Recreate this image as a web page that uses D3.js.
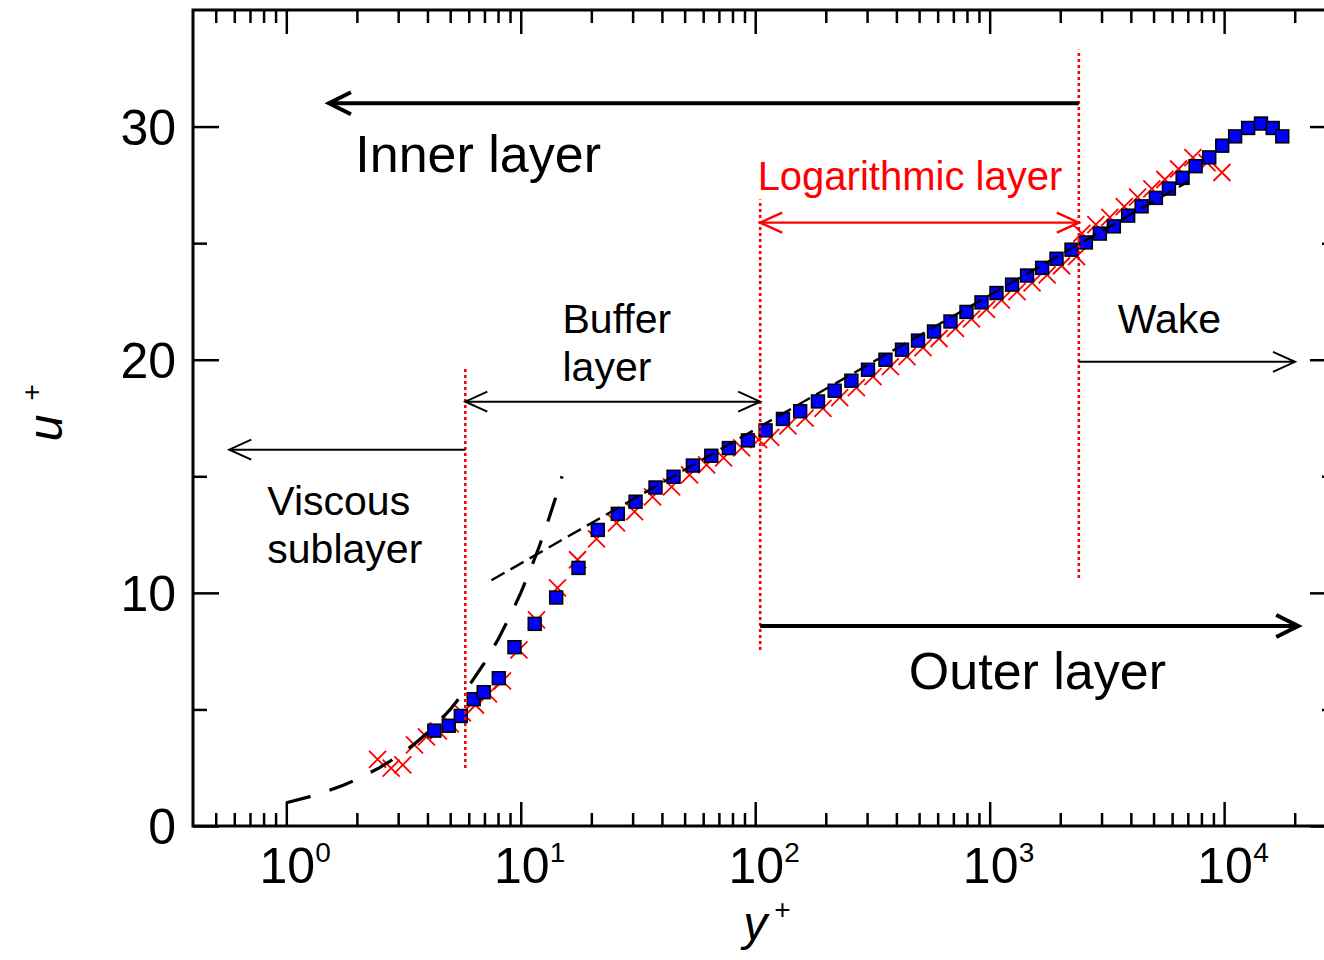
<!DOCTYPE html>
<html><head><meta charset="utf-8">
<script src="https://cdn.jsdelivr.net/npm/d3@7"></script>
<style>
body{margin:0;background:#fff}
svg{display:block}
text{font-family:"Liberation Sans",Arial,Helvetica,sans-serif;fill:#000}
</style>
</head><body>
<svg id="chart" width="1324" height="960"></svg>
<script>
// ---------- data ----------
const blueYPlus = [4.28,4.93,5.55,6.30,6.95,8.06,9.40,11.47,14.16,17.63,21.31,25.94,30.87,37.57,44.84,54.21,64.96,77.22,93.07,110.7,131.3,155.5,185.2,218.2,257.1,302.7,359.2,422.7,494.8,578.9,680.4,796.2,922.6,1069,1246,1444,1674,1928,2234,2572,2951,3386,3896,4446,5116,5813,6652,7556,8639,9815,11140,12660,14360,16110,17700];
const blueUPlus = [4.09,4.30,4.72,5.44,5.74,6.34,7.67,8.67,9.80,11.07,12.70,13.39,13.91,14.52,14.98,15.46,15.88,16.21,16.54,16.97,17.46,17.79,18.21,18.67,19.10,19.57,20.00,20.43,20.82,21.21,21.64,22.05,22.46,22.86,23.22,23.61,23.94,24.33,24.72,25.03,25.41,25.72,26.18,26.58,26.94,27.34,27.80,28.30,28.68,29.18,29.58,29.94,30.13,29.94,29.58];

const redYPlus = [2.45,2.80,3.14,3.52,3.96,4.45,5.01,5.64,6.41,7.28,8.36,9.82,11.67,14.34,17.46,21.04,25.61,30.57,36.49,43.98,52.48,62.03,73.31,87.49,103.4,116.4,137.9,163.3,194.5,229.2,270.1,317.9,377.3,444.0,519.6,608.1,714.5,836.2,969.0,1123,1309,1517,1758,2025,2347,2473,2837,3255,3747,4274,4918,5588,6393,7361,8448,9786];
const redUPlus = [2.86,2.48,2.62,3.48,3.82,4.08,4.38,4.85,5.19,5.67,6.22,7.55,8.84,10.21,11.42,12.32,13.00,13.48,14.12,14.55,15.06,15.49,15.79,16.22,16.57,16.67,17.16,17.49,17.91,18.37,18.80,19.27,19.70,20.13,20.52,20.91,21.34,21.75,22.16,22.56,22.92,23.30,23.64,24.03,24.42,25.42,25.79,26.11,26.57,26.97,27.33,27.73,28.18,28.67,28.45,28.03];

// viscous sublayer law u+ = y+ (points listed)
const viscousYPlus = [1,1.25,1.5,1.75,2,2.5,3,3.5,4,4.5,5,6,7,8,9,10,11,12,13,14,15];
const viscousUPlus = [1,1.25,1.5,1.75,2,2.5,3,3.5,4,4.5,5,6,7,8,9,10,11,12,13,14,15];
// log law (straight on the log axis)
const logLawYPlus = [7.5,7000];
const logLawUPlus = [10.54,27.63];

// region boundaries (dotted red lines) and their vertical extents
const boundYPlus = [5.8,105,2400];
const boundULow  = [2.49,7.55,10.64];
const boundUHigh = [19.66,26.87,33.3];

// ticks
const xMajorTicks = [1,10,100,1000,10000];
const xMajorExp = ["0","1","2","3","4"];
const xMinorTicks = [0.5,0.6,0.7,0.8,0.9,2,3,4,5,6,7,8,9,20,30,40,50,60,70,80,90,200,300,400,500,600,700,800,900,2000,3000,4000,5000,6000,7000,8000,9000,20000];
const yMajorTicks = [0,10,20,30];
const yMinorTicks = [5,15,25];

// ---------- layout ----------
const L=193,R=1336,T=10,B=826;
const svg=d3.select("#chart");
const x=d3.scaleLog().domain([0.4,30000]).range([L,R]);
const y=d3.scaleLinear().domain([0,35]).range([B,T]);

// ---------- axes / frame ----------
const axG=svg.append("g");
function styleAxis(g){g.select(".domain").remove();g.selectAll("line").attr("stroke","#000").attr("stroke-width",2.5);g.selectAll("text").remove();}
axG.append("g").attr("transform",`translate(0,${B})`).call(d3.axisBottom(x).tickValues(xMajorTicks).tickSize(-24).tickFormat("")).call(styleAxis);
axG.append("g").attr("transform",`translate(0,${B})`).call(d3.axisBottom(x).tickValues(xMinorTicks).tickSize(-13).tickFormat("")).call(styleAxis);
axG.append("g").attr("transform",`translate(0,${T})`).call(d3.axisTop(x).tickValues(xMajorTicks).tickSize(-24).tickFormat("")).call(styleAxis);
axG.append("g").attr("transform",`translate(0,${T})`).call(d3.axisTop(x).tickValues(xMinorTicks).tickSize(-13).tickFormat("")).call(styleAxis);
axG.append("g").attr("transform",`translate(${L},0)`).call(d3.axisLeft(y).tickValues(yMajorTicks).tickSize(-26).tickFormat("")).call(styleAxis);
axG.append("g").attr("transform",`translate(${L},0)`).call(d3.axisLeft(y).tickValues(yMinorTicks).tickSize(-14).tickFormat("")).call(styleAxis);
axG.append("g").attr("transform",`translate(${R},0)`).call(d3.axisRight(y).tickValues(yMajorTicks).tickSize(-26).tickFormat("")).call(styleAxis);
axG.append("g").attr("transform",`translate(${R},0)`).call(d3.axisRight(y).tickValues(yMinorTicks).tickSize(-14).tickFormat("")).call(styleAxis);
axG.append("rect").attr("x",L).attr("y",T).attr("width",R-L).attr("height",B-T)
  .attr("fill","none").attr("stroke","#000").attr("stroke-width",3);

// tick labels
const xl=svg.append("g");
xMajorTicks.forEach((v,i)=>{
  xl.append("text").attr("x",x(v)+1).attr("y",B+57).attr("text-anchor","middle").attr("font-size",50).text("10");
  xl.append("text").attr("x",x(v)+29).attr("y",B+36).attr("font-size",28).text(xMajorExp[i]);
});
yMajorTicks.forEach(v=>{
  svg.append("text").attr("x",L-17).attr("y",y(v)+18).attr("text-anchor","end").attr("font-size",50).text(v);
});
// axis titles
const xt=svg.append("text").attr("x",x(100)-12).attr("y",B+114).attr("font-size",48);
xt.append("tspan").attr("font-style","italic").text("y");
xt.append("tspan").attr("font-size",28).attr("dy",-21).attr("dx",7).text("+");
const yt=svg.append("text").attr("transform",`translate(62,${y(16.5)}) rotate(-90)`).attr("font-size",48);
yt.append("tspan").attr("font-style","italic").text("u");
yt.append("tspan").attr("font-size",28).attr("dy",-21).attr("dx",14).text("+");

// ---------- data marks ----------
const redData=redYPlus.map((v,i)=>[v,redUPlus[i]]);
const blueData=blueYPlus.map((v,i)=>[v,blueUPlus[i]]);
const s=8.5;
svg.append("g").selectAll("path").data(redData).join("path")
  .attr("d",d=>{const cx=x(d[0]),cy=y(d[1]);return `M${cx-s},${cy-s}L${cx+s},${cy+s}M${cx-s},${cy+s}L${cx+s},${cy-s}`;})
  .attr("stroke","#ff0000").attr("stroke-width",1.8).attr("fill","none");
const q=6.4;
svg.append("g").selectAll("rect").data(blueData).join("rect")
  .attr("x",d=>x(d[0])-q).attr("y",d=>y(d[1])-q).attr("width",2*q).attr("height",2*q)
  .attr("fill","#0000ff").attr("stroke","#000").attr("stroke-width",1.6);

// law lines
const line=d3.line().x(d=>x(d[0])).y(d=>y(d[1]));
svg.append("path").datum(viscousYPlus.map((v,i)=>[v,viscousUPlus[i]])).attr("d",line)
  .attr("fill","none").attr("stroke","#000").attr("stroke-width",3.2).attr("stroke-dasharray","25,20");
svg.append("path").datum(logLawYPlus.map((v,i)=>[v,logLawUPlus[i]])).attr("d",line)
  .attr("fill","none").attr("stroke","#000").attr("stroke-width",2.4).attr("stroke-dasharray","15,7");

// dotted boundaries
boundYPlus.forEach((v,i)=>{
  svg.append("line").attr("x1",x(v)).attr("x2",x(v)).attr("y1",y(boundULow[i])).attr("y2",y(boundUHigh[i]))
    .attr("stroke","#ff0000").attr("stroke-width",2.6).attr("stroke-dasharray","3,3");
});

// ---------- arrows ----------
function arrow(x1,x2,yy,color,w,dbl,hl,hw){
  const g=svg.append("g").attr("stroke",color).attr("stroke-width",w).attr("fill","none");
  const X1=x(x1),X2=x(x2),Y=y(yy);
  g.append("line").attr("x1",X1).attr("x2",X2).attr("y1",Y).attr("y2",Y);
  const dir=Math.sign(X2-X1);
  g.append("path").attr("d",`M${X2-dir*hl},${Y-hw}L${X2},${Y}L${X2-dir*hl},${Y+hw}`);
  if(dbl) g.append("path").attr("d",`M${X1+dir*hl},${Y-hw}L${X1},${Y}L${X1+dir*hl},${Y+hw}`);
}
arrow(2400,1.52,31.0,"#000",4,false,22,11);      // inner layer
arrow(105,20700,8.58,"#000",4,false,22,11);     // outer layer
arrow(105,2400,25.88,"#ff0000",2.4,true,22,10); // log layer
arrow(5.8,105,18.2,"#000",2,true,22,10);        // buffer
arrow(5.8,0.571,16.14,"#000",2,false,22,10);    // viscous
arrow(2400,20050,19.91,"#000",2,false,22,10);   // wake

// ---------- annotation text ----------
function label(lines,xv,uv,size,color,lh){
  const t=svg.append("text").attr("x",x(xv)).attr("y",y(uv)).attr("font-size",size).style("fill",color);
  lines.forEach((s,i)=>t.append("tspan").attr("x",x(xv)).attr("dy",i?lh:0).text(s));
}
label(["Inner layer"],1.97,28.07,52,"#000",0);
label(["Outer layer"],452,5.88,52,"#000",0);
label(["Logarithmic layer"],102.4,27.3,40,"#ff0000",0);
label(["Buffer","layer"],15.07,21.16,41,"#000",48);
label(["Viscous","sublayer"],0.83,13.35,41,"#000",48);
label(["Wake"],3520,21.16,41,"#000",0);
</script>
</body></html>
